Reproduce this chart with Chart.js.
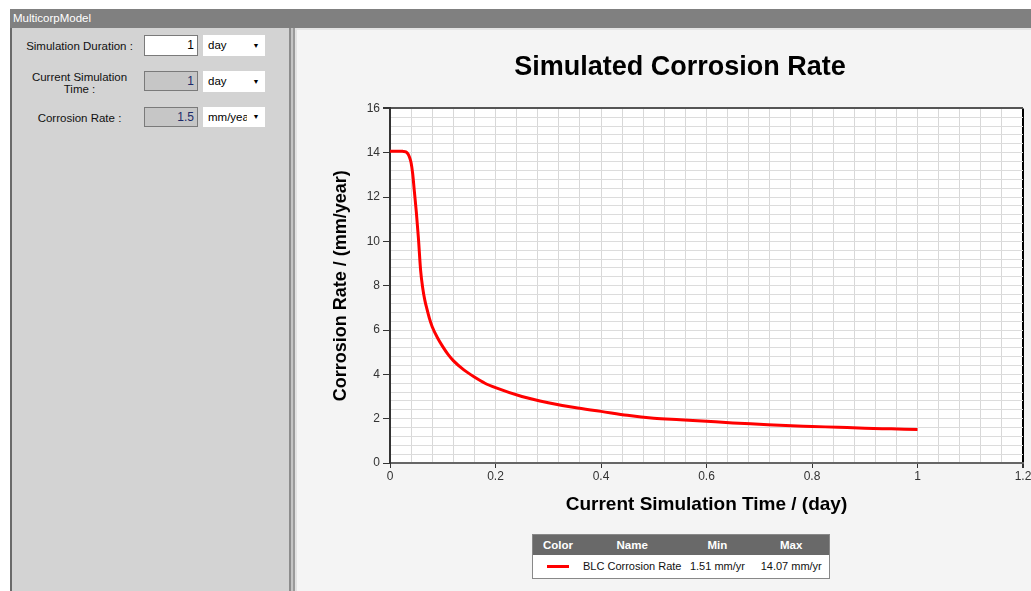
<html style="font-family:'Liberation Sans',Arial,sans-serif;">
<head>
<meta charset="utf-8">
<title>MulticorpModel</title>
<script src="https://cdn.jsdelivr.net/npm/chart.js@4"></script>
<style>
	body{margin:0;width:1031px;height:591px;overflow:hidden;background:#fff;position:relative;}
	.titlebar{position:absolute;left:10px;top:9px;width:1021px;height:19px;background:#808080;color:#fff;font-size:11.5px;line-height:19px;padding-left:3px;box-sizing:border-box;}
	.leftpanel{position:absolute;left:10px;top:28px;width:279px;height:563px;background:#d3d3d3;border-left:2px solid #6a6a6a;box-sizing:border-box;}
	.split{position:absolute;top:28px;height:563px;}
	.rightpanel{position:absolute;left:297px;top:28px;width:734px;height:563px;background:#f4f4f4;border-top:2px solid #e4e4e4;box-sizing:border-box;}
	.lbl{position:absolute;left:10px;width:115px;text-align:center;font-size:11.5px;line-height:12px;color:#111;}
	.box{position:absolute;left:132px;width:54px;box-sizing:border-box;border:1px solid #7a7a7a;text-align:right;font-size:12px;padding-right:3px;}
	.drop{position:absolute;left:191px;width:62px;background:#fff;font-size:11.5px;padding-left:5px;box-sizing:border-box;overflow:hidden;white-space:nowrap;}
	.drop span{position:absolute;right:0;top:0;width:18px;background:#fff;text-align:center;font-size:7px;}
	.chartbox{position:absolute;left:297px;top:30px;width:766px;height:490px;}
	table.leg{position:absolute;left:532px;top:534px;width:298px;border-collapse:collapse;border:1px solid #888;font-size:11px;}
	table.leg th{background:#696969;color:#fff;font-weight:bold;height:20px;padding:0;font-size:11.5px;}
	table.leg td{background:#fff;height:24px;padding:0;color:#111;white-space:nowrap;}
</style>
</head>
<body>
	<div class="titlebar">MulticorpModel</div>
	<div class="leftpanel">
		<div class="lbl" style="top:12px;">Simulation Duration :</div>
		<div class="box" style="top:7px;height:21px;line-height:19px;background:#fff;color:#000;">1</div>
		<div class="drop" style="top:7px;height:21px;line-height:21px;">day<span>&#9660;</span></div>

		<div class="lbl" style="top:43px;">Current Simulation<br>Time :</div>
		<div class="box" style="top:43px;height:20px;line-height:18px;background:#c6c6c6;color:#1c2a6a;">1</div>
		<div class="drop" style="top:43px;height:21px;line-height:21px;">day<span>&#9660;</span></div>

		<div class="lbl" style="top:84px;">Corrosion Rate :</div>
		<div class="box" style="top:79px;height:20px;line-height:18px;background:#c6c6c6;color:#1c2a6a;">1.5</div>
		<div class="drop" style="top:79px;height:20px;line-height:20px;">mm/year<span>&#9660;</span></div>
	</div>
	<div class="split" style="left:289px;width:2px;background:#8c8c8c;"></div>
	<div class="split" style="left:291px;width:2px;background:#c4c4c4;"></div>
	<div class="split" style="left:293px;width:2px;background:#9a9a9a;"></div>
	<div class="split" style="left:295px;width:2px;background:#e2e2e2;"></div>
	<div class="rightpanel"></div>
	<div class="chartbox"><canvas id="ctx"></canvas></div>
	<table class="leg">
		<tr><th style="width:50px;">Color</th><th style="width:98px;">Name</th><th style="width:72px;">Min</th><th>Max</th></tr>
		<tr>
			<td style="text-align:center;"><div style="display:inline-block;width:22px;height:3px;background:#ff0000;vertical-align:middle;"></div></td>
			<td id="legName" style="padding-left:0px;"></td>
			<td id="legMin" style="text-align:center;"></td>
			<td id="legMax" style="text-align:center;"></td>
		</tr>
	</table>
<script>
// values
var seriesName = 'BLC Corrosion Rate';
var timeDays = [0, 0.01, 0.02, 0.025, 0.03, 0.034, 0.037, 0.04, 0.043, 0.046,
	0.05, 0.054, 0.058, 0.062, 0.066, 0.07, 0.075, 0.08, 0.09, 0.1,
	0.11, 0.12, 0.14, 0.16, 0.18, 0.2, 0.25, 0.3, 0.35, 0.4,
	0.45, 0.5, 0.55, 0.6, 0.65, 0.7, 0.75, 0.8, 0.85, 0.9,
	0.95, 1.0];
var corrosionRate = [14.07, 14.07, 14.07, 14.06, 14.04, 13.95, 13.8, 13.55, 13.05, 12.3,
	11.3, 10.1, 8.7, 7.9, 7.35, 6.95, 6.5, 6.15, 5.65, 5.25,
	4.9, 4.62, 4.2, 3.88, 3.6, 3.4, 3.0, 2.72, 2.5, 2.33,
	2.15, 2.02, 1.95, 1.88, 1.81, 1.75, 1.69, 1.65, 1.61, 1.57,
	1.54, 1.51];
var xTicks = [0, 0.2, 0.4, 0.6, 0.8, 1, 1.2];
var yTicks = [0, 2, 4, 6, 8, 10, 12, 14, 16];

document.getElementById('legName').innerHTML = seriesName;
document.getElementById('legMin').innerHTML = Math.min.apply(null, corrosionRate).toFixed(2) + ' mm/yr';
document.getElementById('legMax').innerHTML = Math.max.apply(null, corrosionRate).toFixed(2) + ' mm/yr';

var points = [];
for (var i = 0; i < timeDays.length; i++) points.push({x: timeDays[i], y: corrosionRate[i]});

function isMajor(v, list){
	for (var k = 0; k < list.length; k++) if (Math.abs(v - list[k]) < 1e-6) return true;
	return false;
}

var plotBg = {
	id: 'plotBg',
	beforeDraw: function(chart){
		var a = chart.chartArea, c = chart.ctx;
		c.save(); c.fillStyle = '#fff'; c.fillRect(a.left, a.top, a.right - a.left, a.bottom - a.top); c.restore();
	}
};

var ctx = document.getElementById('ctx');
var myChart = new Chart(ctx, {
	type: 'line',
	data: {
		datasets: [{
			label: seriesName,
			data: points,
			borderColor: '#ff0000',
			borderWidth: 3,
			pointRadius: 0,
			cubicInterpolationMode: 'monotone',
			fill: false
		}]
	},
	options: {
		responsive: true,
		maintainAspectRatio: false,
		animation: false,
		// left padding pushes the title centre right, the y axis title is pulled back with a negative pad
		layout: {padding: {left: 40, right: 40, top: 0, bottom: 0}},
		plugins: {
			legend: {display: false},
			tooltip: {enabled: false},
			title: {
				display: true,
				text: 'Simulated Corrosion Rate',
				color: '#000',
				font: {family: "'Liberation Sans', Arial, sans-serif", size: 27, weight: 'bold'},
				padding: {top: 21, bottom: 25}
			}
		},
		scales: {
			x: {
				type: 'linear', min: 0, max: 1.2,
				afterFit: function(s){ s.height = 57; },
				border: {color: '#666', width: 2},
				grid: {
					color: function(c){ return isMajor(c.tick.value, [1.2]) ? '#000' : '#d8d8d8'; },
					lineWidth: function(c){ return isMajor(c.tick.value, [1.2]) ? 2 : 1; },
					tickColor: function(c){ return isMajor(c.tick.value, xTicks) ? '#333' : 'rgba(0,0,0,0)'; },
					tickLength: 5
				},
				ticks: {
					stepSize: 0.04, autoSkip: false, maxRotation: 0, padding: 1,
					color: '#333',
					font: {family: "'Liberation Sans', Arial, sans-serif", size: 12},
					callback: function(v){ return isMajor(v, xTicks) ? String(Math.round(v * 5) / 5) : ''; }
				},
				title: {
					display: true, text: 'Current Simulation Time / (day)', color: '#000',
					font: {family: "'Liberation Sans', Arial, sans-serif", size: 19, weight: 'bold'},
					padding: {top: 0, bottom: 4}
				}
			},
			y: {
				min: 0, max: 16,
				afterFit: function(s){ s.width = 53; },
				border: {color: '#333', width: 2},
				grid: {
					color: function(c){ return isMajor(c.tick.value, [16]) ? '#555' : '#dcdcdc'; },
					lineWidth: function(c){ return isMajor(c.tick.value, [16]) ? 2 : 1; },
					tickColor: function(c){ return isMajor(c.tick.value, yTicks) ? '#333' : 'rgba(0,0,0,0)'; },
					tickLength: 7
				},
				ticks: {
					stepSize: 0.4, autoSkip: false, padding: 3,
					color: '#333',
					font: {family: "'Liberation Sans', Arial, sans-serif", size: 12},
					callback: function(v){ return isMajor(v, yTicks) ? String(Math.round(v)) : ''; }
				},
				title: {
					display: true, text: 'Corrosion Rate / (mm/year)', color: '#000',
					font: {family: "'Liberation Sans', Arial, sans-serif", size: 18, weight: 'bold'},
					padding: {top: -7, bottom: 0}
				}
			}
		}
	},
	plugins: [plotBg]
});
</script>
</body>
</html>
